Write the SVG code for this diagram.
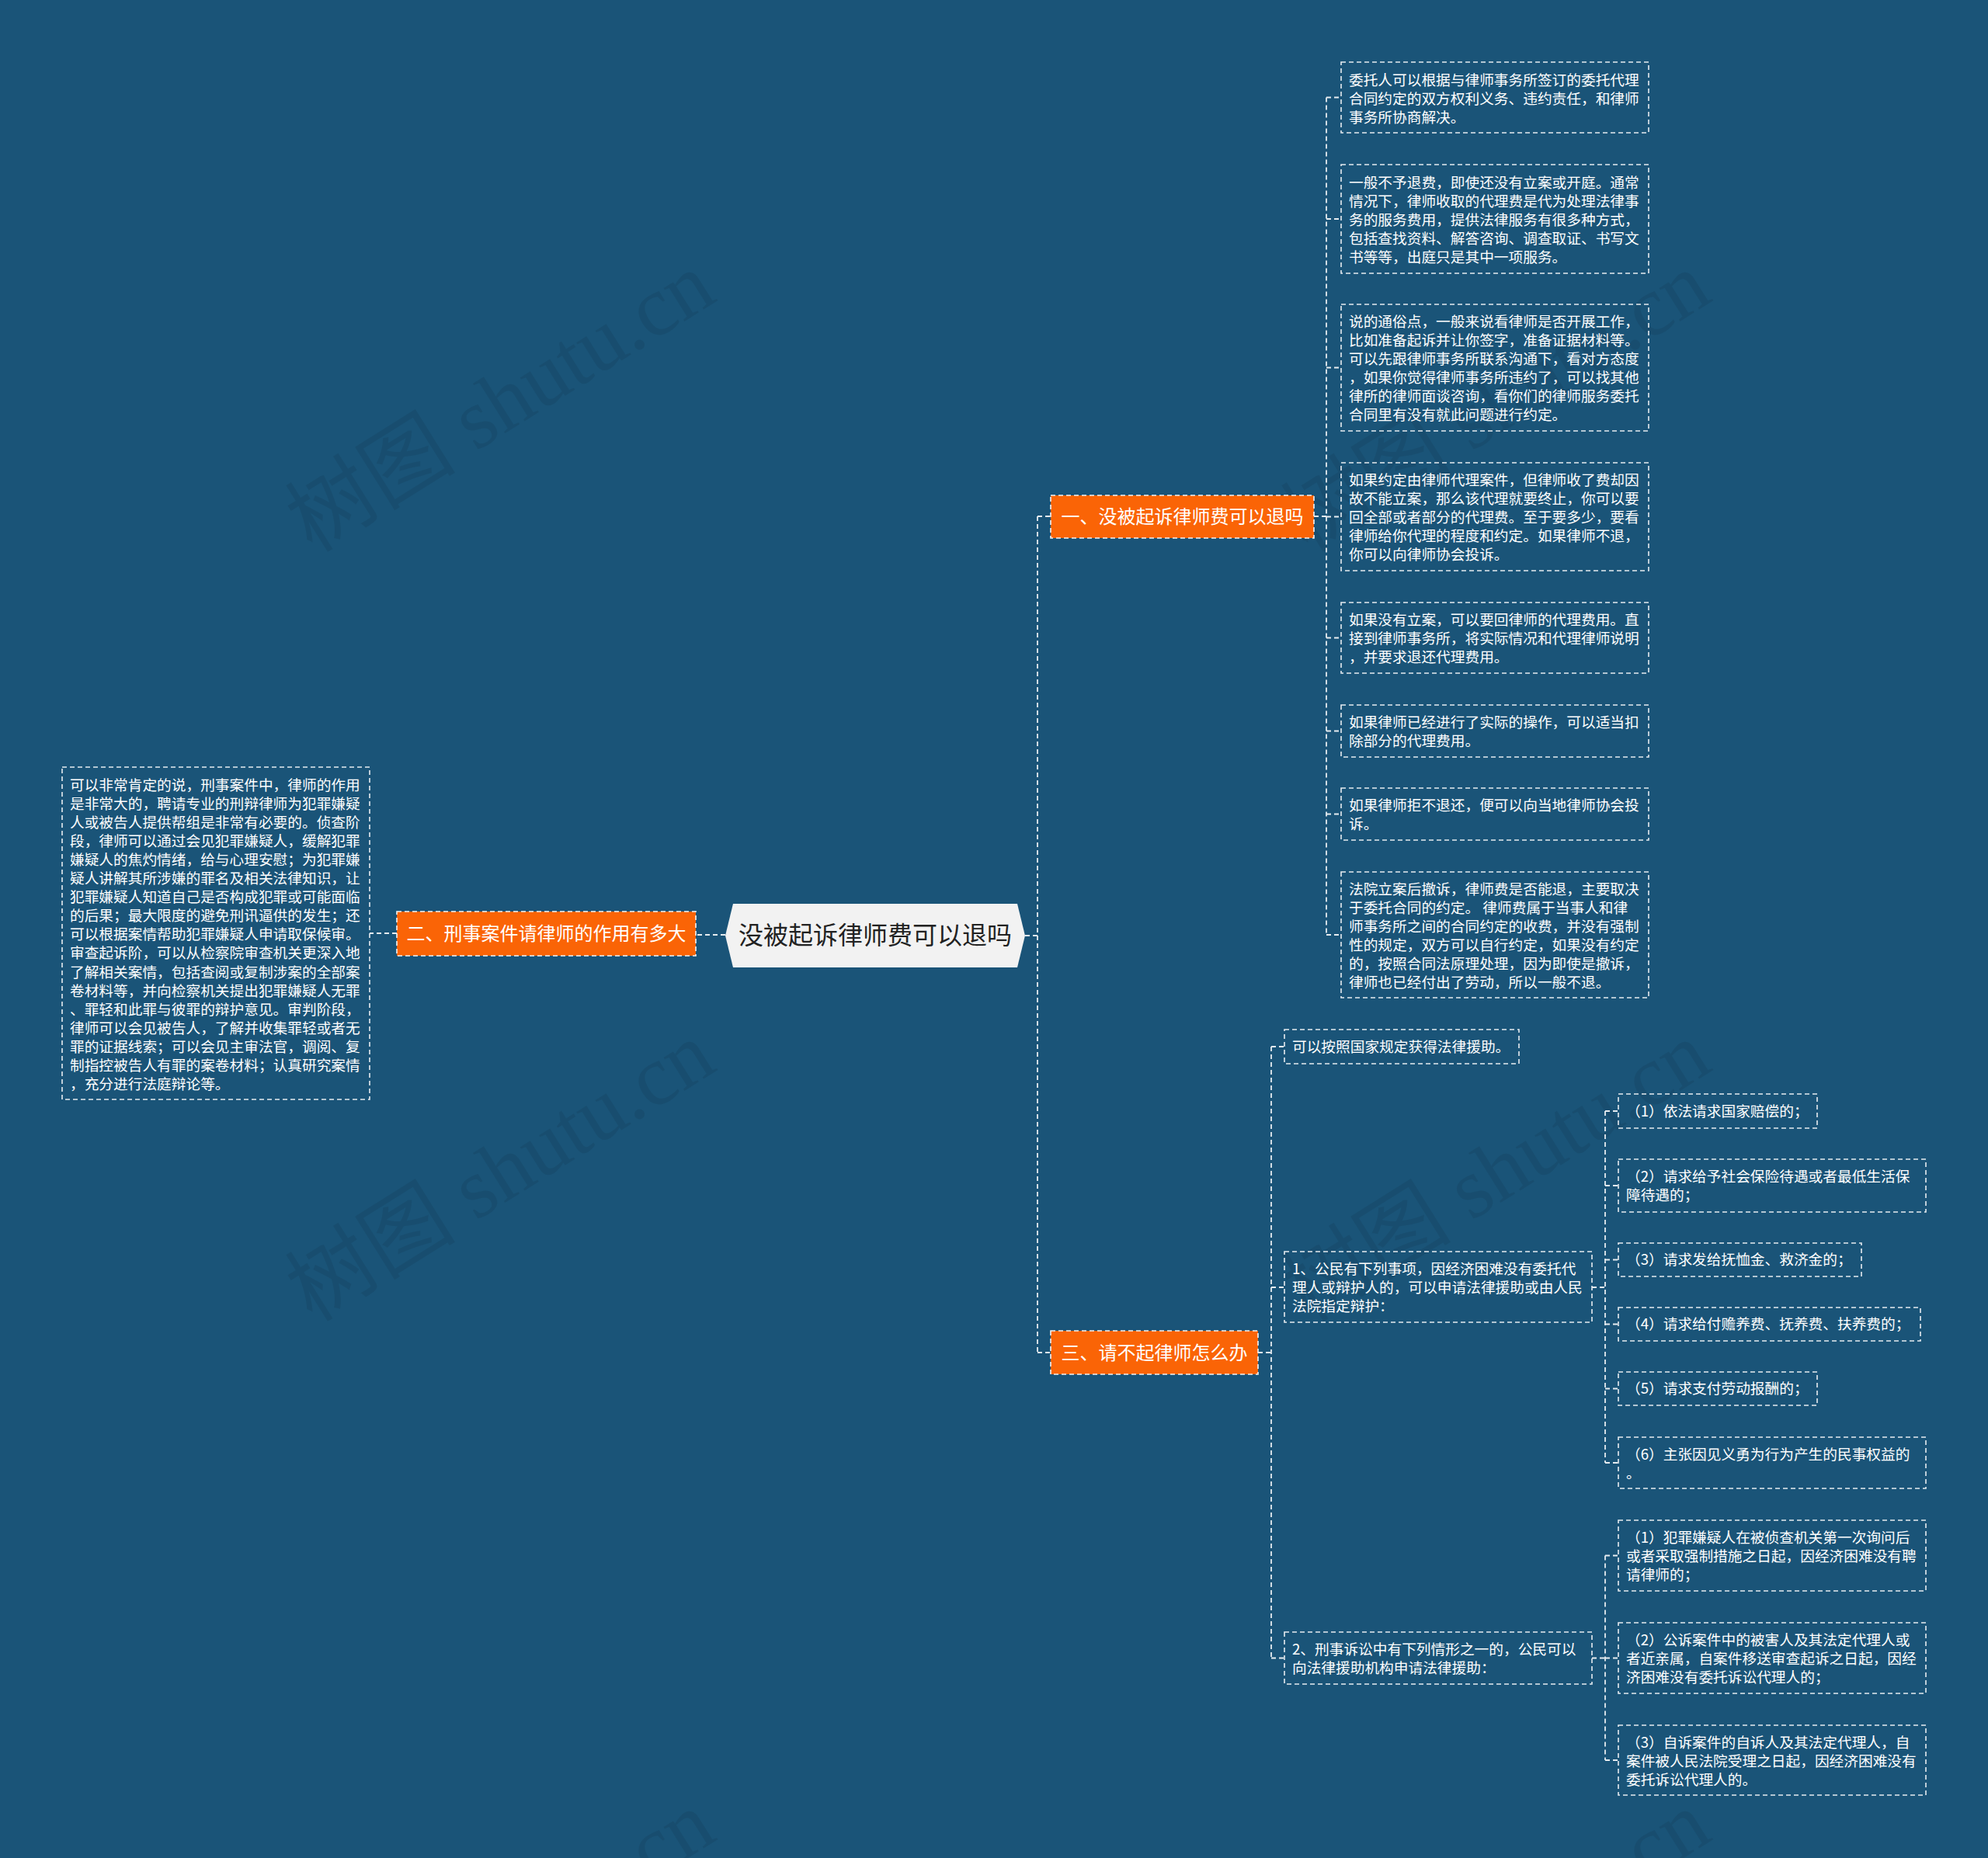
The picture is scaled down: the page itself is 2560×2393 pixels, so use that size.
<svg xmlns="http://www.w3.org/2000/svg" width="2560" height="2393" viewBox="0 0 2560 2393">
<style>
.bg{fill:#1a5478}
.box{fill:none;stroke:#e6ecf0;stroke-width:1.6;stroke-dasharray:6 4}
.ob{fill:#fa6406;stroke:#f4f4f4;stroke-width:1.6;stroke-dasharray:6 4}
.ln{fill:none;stroke:#e6ecf0;stroke-width:1.8;stroke-dasharray:6 4}
.t{font-family:"Noto Sans CJK SC","Noto Sans",sans-serif;font-size:18.7px;fill:#ffffff}
.ot{font-family:"Noto Sans CJK SC","Noto Sans",sans-serif;font-size:24px;fill:#ffffff;text-anchor:middle}
.ct{font-family:"Noto Sans CJK SC","Noto Sans",sans-serif;font-size:32px;fill:#222222;text-anchor:middle}
.wm{font-family:"Liberation Serif","Noto Sans CJK SC",serif;font-size:110px;fill:#000000;opacity:0.07}
</style>
<rect class="bg" x="0" y="0" width="2560" height="2393"/>

<g id="watermarks">
<text class="wm" x="645" y="555" text-anchor="middle" transform="rotate(-32 645 519)">树图 shutu.cn</text>
<text class="wm" x="645" y="1546" text-anchor="middle" transform="rotate(-32 645 1510)">树图 shutu.cn</text>
<text class="wm" x="1927" y="555" text-anchor="middle" transform="rotate(-32 1927 519)">树图 shutu.cn</text>
<text class="wm" x="1927" y="1546" text-anchor="middle" transform="rotate(-32 1927 1510)">树图 shutu.cn</text>
<text class="wm" x="645" y="2537" text-anchor="middle" transform="rotate(-32 645 2501)">树图 shutu.cn</text>
<text class="wm" x="1927" y="2537" text-anchor="middle" transform="rotate(-32 1927 2501)">树图 shutu.cn</text>
</g>

<g id="connectors">
<!-- center to left -->
<path class="ln" d="M934,1204 H896"/>
<path class="ln" d="M511,1202 H476"/>
<!-- center to right trunk -->
<path class="ln" d="M1320,1205 H1336"/>
<path class="ln" d="M1336,665 V1742"/>
<path class="ln" d="M1336,665 H1353"/>
<path class="ln" d="M1336,1742 H1353"/>
<!-- node 1 children -->
<path class="ln" d="M1692,665 H1708"/>
<path class="ln" d="M1708,125.5 V1204"/>
<path class="ln" d="M1708,125.5 H1727"/>
<path class="ln" d="M1708,282 H1727"/>
<path class="ln" d="M1708,473.5 H1727"/>
<path class="ln" d="M1708,665.5 H1727"/>
<path class="ln" d="M1708,821.5 H1727"/>
<path class="ln" d="M1708,941.5 H1727"/>
<path class="ln" d="M1708,1048.5 H1727"/>
<path class="ln" d="M1708,1204 H1727"/>
<!-- node 3 children -->
<path class="ln" d="M1620,1742 H1637"/>
<path class="ln" d="M1637,1348 V2135.5"/>
<path class="ln" d="M1637,1348 H1654"/>
<path class="ln" d="M1637,1658 H1654"/>
<path class="ln" d="M1637,2135.5 H1654"/>
<!-- sub 1 children -->
<path class="ln" d="M2050,1658 H2067"/>
<path class="ln" d="M2067,1431 V1884"/>
<path class="ln" d="M2067,1431 H2084"/>
<path class="ln" d="M2067,1527 H2084"/>
<path class="ln" d="M2067,1622.5 H2084"/>
<path class="ln" d="M2067,1705.5 H2084"/>
<path class="ln" d="M2067,1788.5 H2084"/>
<path class="ln" d="M2067,1884 H2084"/>
<!-- sub 2 children -->
<path class="ln" d="M2050,2135.5 H2067"/>
<path class="ln" d="M2067,2003.5 V2267"/>
<path class="ln" d="M2067,2003.5 H2084"/>
<path class="ln" d="M2067,2135.5 H2084"/>
<path class="ln" d="M2067,2267 H2084"/>
</g>

<g id="root">
<polygon points="934,1205 944,1164 1310,1164 1320,1205 1310,1246 944,1246" fill="#f2f2f2"/>
<text class="ct" x="1127" y="1216">没被起诉律师费可以退吗</text>
</g>

<g id="n1">
<rect class="ob" x="1353" y="638" width="339" height="55"/>
<text class="ot" x="1522.5" y="674">一、没被起诉律师费可以退吗</text>
</g>
<g id="n2">
<rect class="ob" x="511" y="1174" width="385" height="57"/>
<text class="ot" x="703.5" y="1211">二、刑事案件请律师的作用有多大</text>
</g>
<g id="n3">
<rect class="ob" x="1353" y="1714" width="267" height="56"/>
<text class="ot" x="1486.5" y="1751">三、请不起律师怎么办</text>
</g>

<g id="n1-1">
<rect class="box" x="1727" y="80" width="396" height="91"/>
<text class="t" x="1737" y="110"><tspan x="1737">委托人可以根据与律师事务所签订的委托代理</tspan><tspan x="1737" dy="24">合同约定的双方权利义务、违约责任，和律师</tspan><tspan x="1737" dy="24">事务所协商解决。</tspan></text>
</g>
<g id="n1-2">
<rect class="box" x="1727" y="212" width="396" height="140"/>
<text class="t" x="1737" y="241.5"><tspan x="1737">一般不予退费，即使还没有立案或开庭。通常</tspan><tspan x="1737" dy="24">情况下，律师收取的代理费是代为处理法律事</tspan><tspan x="1737" dy="24">务的服务费用，提供法律服务有很多种方式，</tspan><tspan x="1737" dy="24">包括查找资料、解答咨询、调查取证、书写文</tspan><tspan x="1737" dy="24">书等等，出庭只是其中一项服务。</tspan></text>
</g>
<g id="n1-3">
<rect class="box" x="1727" y="392" width="396" height="163"/>
<text class="t" x="1737" y="420.5"><tspan x="1737">说的通俗点，一般来说看律师是否开展工作，</tspan><tspan x="1737" dy="24">比如准备起诉并让你签字，准备证据材料等。</tspan><tspan x="1737" dy="24">可以先跟律师事务所联系沟通下，看对方态度</tspan><tspan x="1737" dy="24">，如果你觉得律师事务所违约了，可以找其他</tspan><tspan x="1737" dy="24">律所的律师面谈咨询，看你们的律师服务委托</tspan><tspan x="1737" dy="24">合同里有没有就此问题进行约定。</tspan></text>
</g>
<g id="n1-4">
<rect class="box" x="1727" y="596" width="396" height="139"/>
<text class="t" x="1737" y="624.5"><tspan x="1737">如果约定由律师代理案件，但律师收了费却因</tspan><tspan x="1737" dy="24">故不能立案，那么该代理就要终止，你可以要</tspan><tspan x="1737" dy="24">回全部或者部分的代理费。至于要多少，要看</tspan><tspan x="1737" dy="24">律师给你代理的程度和约定。如果律师不退，</tspan><tspan x="1737" dy="24">你可以向律师协会投诉。</tspan></text>
</g>
<g id="n1-5">
<rect class="box" x="1727" y="776" width="396" height="91"/>
<text class="t" x="1737" y="804.5"><tspan x="1737">如果没有立案，可以要回律师的代理费用。直</tspan><tspan x="1737" dy="24">接到律师事务所，将实际情况和代理律师说明</tspan><tspan x="1737" dy="24">，并要求退还代理费用。</tspan></text>
</g>
<g id="n1-6">
<rect class="box" x="1727" y="908" width="396" height="67"/>
<text class="t" x="1737" y="936.5"><tspan x="1737">如果律师已经进行了实际的操作，可以适当扣</tspan><tspan x="1737" dy="24">除部分的代理费用。</tspan></text>
</g>
<g id="n1-7">
<rect class="box" x="1727" y="1015" width="396" height="67"/>
<text class="t" x="1737" y="1043.5"><tspan x="1737">如果律师拒不退还，便可以向当地律师协会投</tspan><tspan x="1737" dy="24">诉。</tspan></text>
</g>
<g id="n1-8">
<rect class="box" x="1727" y="1123" width="396" height="162"/>
<text class="t" x="1737" y="1151.5"><tspan x="1737">法院立案后撤诉，律师费是否能退，主要取决</tspan><tspan x="1737" dy="24">于委托合同的约定。 律师费属于当事人和律</tspan><tspan x="1737" dy="24">师事务所之间的合同约定的收费，并没有强制</tspan><tspan x="1737" dy="24">性的规定，双方可以自行约定，如果没有约定</tspan><tspan x="1737" dy="24">的，按照合同法原理处理，因为即使是撤诉，</tspan><tspan x="1737" dy="24">律师也已经付出了劳动，所以一般不退。</tspan></text>
</g>

<g id="n2-1">
<rect class="box" x="80" y="988" width="396" height="428"/>
<text class="t" x="90" y="1017.5"><tspan x="90">可以非常肯定的说，刑事案件中，律师的作用</tspan><tspan x="90" dy="24.1">是非常大的，聘请专业的刑辩律师为犯罪嫌疑</tspan><tspan x="90" dy="24.1">人或被告人提供帮组是非常有必要的。侦查阶</tspan><tspan x="90" dy="24.1">段，律师可以通过会见犯罪嫌疑人，缓解犯罪</tspan><tspan x="90" dy="24.1">嫌疑人的焦灼情绪，给与心理安慰；为犯罪嫌</tspan><tspan x="90" dy="24.1">疑人讲解其所涉嫌的罪名及相关法律知识，让</tspan><tspan x="90" dy="24.1">犯罪嫌疑人知道自己是否构成犯罪或可能面临</tspan><tspan x="90" dy="24.1">的后果；最大限度的避免刑讯逼供的发生；还</tspan><tspan x="90" dy="24.1">可以根据案情帮助犯罪嫌疑人申请取保候审。</tspan><tspan x="90" dy="24.1">审查起诉阶，可以从检察院审查机关更深入地</tspan><tspan x="90" dy="24.1">了解相关案情，包括查阅或复制涉案的全部案</tspan><tspan x="90" dy="24.1">卷材料等，并向检察机关提出犯罪嫌疑人无罪</tspan><tspan x="90" dy="24.1">、罪轻和此罪与彼罪的辩护意见。审判阶段，</tspan><tspan x="90" dy="24.1">律师可以会见被告人，了解并收集罪轻或者无</tspan><tspan x="90" dy="24.1">罪的证据线索；可以会见主审法官，调阅、复</tspan><tspan x="90" dy="24.1">制指控被告人有罪的案卷材料；认真研究案情</tspan><tspan x="90" dy="24.1">，充分进行法庭辩论等。</tspan></text>
</g>

<g id="n3-1">
<rect class="box" x="1654" y="1326" width="302" height="44"/>
<text class="t" x="1664" y="1354.5">可以按照国家规定获得法律援助。</text>
</g>
<g id="n3-2">
<rect class="box" x="1654" y="1612" width="396" height="91"/>
<text class="t" x="1664" y="1640.5"><tspan x="1664">1、公民有下列事项，因经济困难没有委托代</tspan><tspan x="1664" dy="24">理人或辩护人的，可以申请法律援助或由人民</tspan><tspan x="1664" dy="24">法院指定辩护：</tspan></text>
</g>
<g id="n3-3">
<rect class="box" x="1654" y="2102" width="396" height="67"/>
<text class="t" x="1664" y="2130.5"><tspan x="1664">2、刑事诉讼中有下列情形之一的，公民可以</tspan><tspan x="1664" dy="24">向法律援助机构申请法律援助：</tspan></text>
</g>

<g id="n3-2-1">
<rect class="box" x="2084" y="1409" width="256" height="44"/>
<text class="t" x="2094" y="1437.5">（1）依法请求国家赔偿的；</text>
</g>
<g id="n3-2-2">
<rect class="box" x="2084" y="1493" width="396" height="68"/>
<text class="t" x="2094" y="1521.5"><tspan x="2094">（2）请求给予社会保险待遇或者最低生活保</tspan><tspan x="2094" dy="24">障待遇的；</tspan></text>
</g>
<g id="n3-2-3">
<rect class="box" x="2084" y="1601" width="313" height="43"/>
<text class="t" x="2094" y="1629">（3）请求发给抚恤金、救济金的；</text>
</g>
<g id="n3-2-4">
<rect class="box" x="2084" y="1684" width="389" height="43"/>
<text class="t" x="2094" y="1712">（4）请求给付赡养费、抚养费、扶养费的；</text>
</g>
<g id="n3-2-5">
<rect class="box" x="2084" y="1767" width="256" height="43"/>
<text class="t" x="2094" y="1795">（5）请求支付劳动报酬的；</text>
</g>
<g id="n3-2-6">
<rect class="box" x="2084" y="1851" width="396" height="66"/>
<text class="t" x="2094" y="1879.5"><tspan x="2094">（6）主张因见义勇为行为产生的民事权益的</tspan><tspan x="2094" dy="24">。</tspan></text>
</g>

<g id="n3-3-1">
<rect class="box" x="2084" y="1958" width="396" height="91"/>
<text class="t" x="2094" y="1986.5"><tspan x="2094">（1）犯罪嫌疑人在被侦查机关第一次询问后</tspan><tspan x="2094" dy="24">或者采取强制措施之日起，因经济困难没有聘</tspan><tspan x="2094" dy="24">请律师的；</tspan></text>
</g>
<g id="n3-3-2">
<rect class="box" x="2084" y="2090" width="396" height="91"/>
<text class="t" x="2094" y="2118.5"><tspan x="2094">（2）公诉案件中的被害人及其法定代理人或</tspan><tspan x="2094" dy="24">者近亲属，自案件移送审查起诉之日起，因经</tspan><tspan x="2094" dy="24">济困难没有委托诉讼代理人的；</tspan></text>
</g>
<g id="n3-3-3">
<rect class="box" x="2084" y="2222" width="396" height="90"/>
<text class="t" x="2094" y="2250.5"><tspan x="2094">（3）自诉案件的自诉人及其法定代理人，自</tspan><tspan x="2094" dy="24">案件被人民法院受理之日起，因经济困难没有</tspan><tspan x="2094" dy="24">委托诉讼代理人的。</tspan></text>
</g>
</svg>
